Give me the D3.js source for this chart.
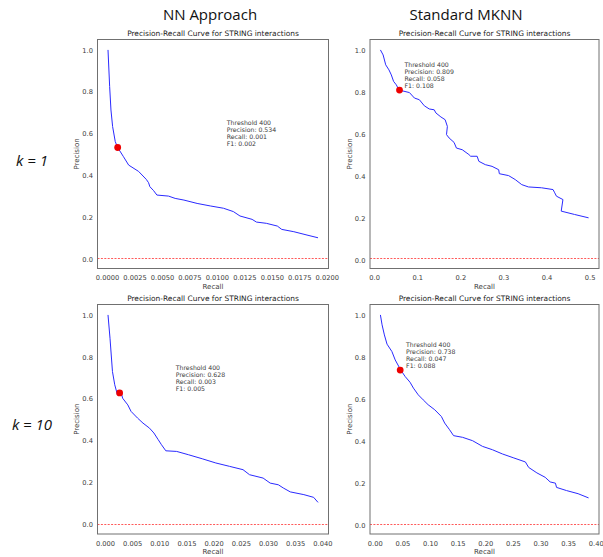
<!DOCTYPE html>
<html>
<head>
<meta charset="utf-8">
<script src="https://cdn.jsdelivr.net/npm/d3@7"></script>
<style>
  html, body { margin: 0; padding: 0; background: #fff; }
  svg { display: block; }
</style>
</head>
<body>
<svg id="chart" width="603" height="557"></svg>
<script>
// Precision-recall curves for STRING interactions, NN approach vs standard MKNN, k = 1 and k = 10.

const columnHeaders = ["NN Approach", "Standard MKNN"];
const rowLabels = ["k = 1", "k = 10"];
const panelTitle = "Precision-Recall Curve for STRING interactions";

// NN approach, k = 1
const nnK1Recall = [0.00009, 0.00024, 0.00036, 0.00051, 0.00075, 0.00097, 0.0015, 0.00197, 0.00287, 0.00357, 0.00378, 0.0039, 0.00424, 0.00454, 0.0056, 0.0062, 0.007, 0.0082, 0.0094, 0.0106, 0.0115, 0.0121, 0.0132, 0.0136, 0.0145, 0.0155, 0.0159, 0.017, 0.0182, 0.0192];
const nnK1Precision = [1.0, 0.825, 0.713, 0.634, 0.562, 0.534, 0.49, 0.45, 0.42, 0.382, 0.366, 0.347, 0.328, 0.307, 0.302, 0.291, 0.283, 0.267, 0.255, 0.244, 0.228, 0.207, 0.191, 0.178, 0.172, 0.159, 0.143, 0.132, 0.116, 0.103];

// Standard MKNN, k = 1
const mkK1Recall = [0.0147, 0.021, 0.027, 0.0345, 0.040, 0.0453, 0.0515, 0.058, 0.082, 0.0936, 0.105, 0.1166, 0.128, 0.1395, 0.1434, 0.155, 0.1648, 0.17, 0.168, 0.174, 0.1855, 0.191, 0.2046, 0.22, 0.224, 0.239, 0.243, 0.258, 0.2736, 0.289, 0.2905, 0.312, 0.3274, 0.3425, 0.358, 0.3885, 0.415, 0.419, 0.423, 0.438, 0.434, 0.465, 0.4975];
const mkK1Precision = [1.0, 0.976, 0.929, 0.905, 0.881, 0.85, 0.834, 0.809, 0.797, 0.771, 0.763, 0.734, 0.719, 0.715, 0.70, 0.681, 0.668, 0.636, 0.597, 0.581, 0.56, 0.533, 0.525, 0.502, 0.494, 0.494, 0.47, 0.454, 0.446, 0.43, 0.411, 0.402, 0.383, 0.359, 0.348, 0.344, 0.3355, 0.32, 0.304, 0.288, 0.233, 0.217, 0.201];

// NN approach, k = 10
const nnK10Recall = [0.00056, 0.00093, 0.00138, 0.0018, 0.0023, 0.0030, 0.00325, 0.0042, 0.0048, 0.006, 0.007, 0.0082, 0.009, 0.0098, 0.0104, 0.0112, 0.0132, 0.0154, 0.0179, 0.0204, 0.0229, 0.0254, 0.0266, 0.0291, 0.0304, 0.0319, 0.0328, 0.0341, 0.0366, 0.0384, 0.0392];
const nnK10Precision = [1.0, 0.889, 0.73, 0.667, 0.619, 0.628, 0.603, 0.571, 0.54, 0.508, 0.484, 0.46, 0.437, 0.405, 0.381, 0.352, 0.349, 0.333, 0.314, 0.294, 0.278, 0.262, 0.238, 0.222, 0.198, 0.19, 0.175, 0.156, 0.143, 0.13, 0.106];

// Standard MKNN, k = 10
const mkK10Recall = [0.0102, 0.0132, 0.0174, 0.0222, 0.031, 0.037, 0.047, 0.055, 0.0638, 0.07, 0.0787, 0.0877, 0.0966, 0.1086, 0.1206, 0.1265, 0.1354, 0.1426, 0.159, 0.177, 0.195, 0.213, 0.231, 0.2517, 0.2726, 0.2785, 0.2934, 0.3084, 0.3174, 0.327, 0.329, 0.347, 0.368, 0.387];
const mkK10Precision = [1.0, 0.953, 0.905, 0.861, 0.826, 0.786, 0.738, 0.707, 0.68, 0.652, 0.62, 0.596, 0.573, 0.549, 0.517, 0.486, 0.454, 0.426, 0.418, 0.402, 0.375, 0.359, 0.339, 0.32, 0.301, 0.275, 0.249, 0.228, 0.206, 0.2, 0.18, 0.165, 0.15, 0.13];

// Fraction of positive pairs (random-classifier baseline) per panel
const baselines = [0.006, 0.0095, 0.005, 0.008];

// Operating point at threshold 400: [recall, precision, F1]
const thresholdLabel = "Threshold 400";
const thresholdPoints = [
  [0.001, 0.534, 0.002],
  [0.058, 0.809, 0.108],
  [0.003, 0.628, 0.005],
  [0.047, 0.738, 0.088]
];
// Marker position on the curve (recall, precision)
const markerRecall = [0.00097, 0.059, 0.0027, 0.046];
const markerPrecision = [0.534, 0.809, 0.628, 0.738];

// Where each annotation block starts (recall, precision)
const noteRecall = [0.0109, 0.0706, 0.01303, 0.0567];
const notePrecision = [0.642, 0.917, 0.738, 0.846];

// Tick settings per panel
const xTickValues = [
  [0, 0.0025, 0.005, 0.0075, 0.01, 0.0125, 0.015, 0.0175, 0.02],
  [0, 0.1, 0.2, 0.3, 0.4, 0.5],
  [0, 0.005, 0.01, 0.015, 0.02, 0.025, 0.03, 0.035, 0.04],
  [0, 0.05, 0.1, 0.15, 0.2, 0.25, 0.3, 0.35, 0.4]
];
const xTickFormats = [".4f", ".1f", ".3f", ".2f"];
const yTickValues = [0, 0.2, 0.4, 0.6, 0.8, 1.0];

const panels = [
  { recall: nnK1Recall,  precision: nnK1Precision,  left: 97.5,  right: 328.5, top: 39.5,  bottom: 268.5 },
  { recall: mkK1Recall,  precision: mkK1Precision,  left: 370,   right: 599,   top: 39.5,  bottom: 268.5 },
  { recall: nnK10Recall, precision: nnK10Precision, left: 97.5,  right: 328.5, top: 304.5, bottom: 534 },
  { recall: mkK10Recall, precision: mkK10Precision, left: 370,   right: 599,   top: 304.5, bottom: 534 }
];

const svg = d3.select("#chart");
const chartFont = "DejaVu Sans, sans-serif";
const textColor = "#3a3a3a";

// matplotlib-style 5% padding around the data extent
function padded(lo, hi) {
  const m = (hi - lo) * 0.05;
  return [lo - m, hi + m];
}

panels.forEach((p, i) => {
  const xExt = d3.extent(p.recall);
  const x = d3.scaleLinear().domain(padded(xExt[0], xExt[1])).range([p.left, p.right]);
  const yLo = Math.min(baselines[i], d3.min(p.precision));
  const yHi = d3.max(p.precision);
  const y = d3.scaleLinear().domain(padded(yLo, yHi)).range([p.bottom, p.top]);

  const g = svg.append("g");

  // Baseline, snapped to the pixel grid so the dashes stay crisp
  const by = Math.round(y(baselines[i])) + 0.5;
  g.append("line")
    .attr("x1", p.left).attr("x2", p.right)
    .attr("y1", by).attr("y2", by)
    .attr("stroke", "#ff5a5a")
    .attr("stroke-width", 1)
    .attr("stroke-dasharray", "2,1.4");

  // Curve
  const pts = p.recall.map((r, j) => [r, p.precision[j]]);
  g.append("path")
    .datum(pts)
    .attr("fill", "none")
    .attr("stroke", "#2a2aff")
    .attr("stroke-width", 1)
    .attr("d", d3.line().x(d => x(d[0])).y(d => y(d[1])));

  // Threshold marker
  g.append("circle")
    .attr("cx", x(markerRecall[i])).attr("cy", y(markerPrecision[i]))
    .attr("r", 3.4).attr("fill", "#ee0000");

  // Annotation
  const tp = thresholdPoints[i];
  const lines = [
    thresholdLabel,
    "Precision: " + d3.format(".3f")(tp[1]),
    "Recall: " + d3.format(".3f")(tp[0]),
    "F1: " + d3.format(".3f")(tp[2])
  ];
  g.append("g").selectAll("text").data(lines).join("text")
    .attr("x", x(noteRecall[i]))
    .attr("y", (d, k) => y(notePrecision[i]) + k * 6.9)
    .attr("font-family", chartFont).attr("font-size", 6.2)
    .attr("fill", textColor)
    .text(d => d);

  // Axes (labels only, no tick marks)
  const xAxis = d3.axisBottom(x).tickValues(xTickValues[i])
    .tickFormat(d3.format(xTickFormats[i])).tickSize(0).tickPadding(7);
  g.append("g").attr("transform", `translate(0,${p.bottom})`).call(xAxis)
    .call(a => a.select(".domain").remove())
    .selectAll("text").attr("font-family", chartFont).attr("font-size", 6.7).attr("fill", textColor);

  const yAxis = d3.axisLeft(y).tickValues(yTickValues)
    .tickFormat(d3.format(".1f")).tickSize(0).tickPadding(4.5);
  g.append("g").attr("transform", `translate(${p.left},0)`).call(yAxis)
    .call(a => a.select(".domain").remove())
    .selectAll("text").attr("font-family", chartFont).attr("font-size", 6.7).attr("fill", textColor);

  // Frame
  g.append("rect")
    .attr("x", p.left).attr("y", p.top)
    .attr("width", p.right - p.left).attr("height", p.bottom - p.top)
    .attr("fill", "none").attr("stroke", "#707070").attr("stroke-width", 1);

  // Title and axis labels
  g.append("text")
    .attr("x", (p.left + p.right) / 2).attr("y", p.top - 3.5)
    .attr("text-anchor", "middle")
    .attr("font-family", chartFont).attr("font-size", 7.45).attr("fill", "#222")
    .text(panelTitle);

  g.append("text")
    .attr("x", (p.left + p.right) / 2).attr("y", p.bottom + 20)
    .attr("text-anchor", "middle")
    .attr("font-family", chartFont).attr("font-size", 7).attr("fill", textColor)
    .text("Recall");

  g.append("text")
    .attr("transform", `translate(${p.left - 18.5},${(p.top + p.bottom) / 2}) rotate(-90)`)
    .attr("text-anchor", "middle")
    .attr("font-family", chartFont).attr("font-size", 7).attr("fill", textColor)
    .text("Precision");
});

// Column headers
const headerX = [210, 466];
svg.selectAll("text.header").data(columnHeaders).join("text")
  .attr("class", "header")
  .attr("x", (d, i) => headerX[i]).attr("y", 20)
  .attr("text-anchor", "middle")
  .attr("font-family", "Open Sans, Noto Sans, sans-serif").attr("font-size", 15)
  .attr("fill", "#111")
  .text(d => d);

// Row labels
const rowY = [166, 430];
svg.selectAll("text.row").data(rowLabels).join("text")
  .attr("class", "row")
  .attr("x", 32).attr("y", (d, i) => rowY[i])
  .attr("text-anchor", "middle")
  .attr("font-family", "Open Sans, Noto Sans, sans-serif").attr("font-style", "italic")
  .attr("font-size", 15)
  .attr("fill", "#111")
  .text(d => d);
</script>
</body>
</html>
